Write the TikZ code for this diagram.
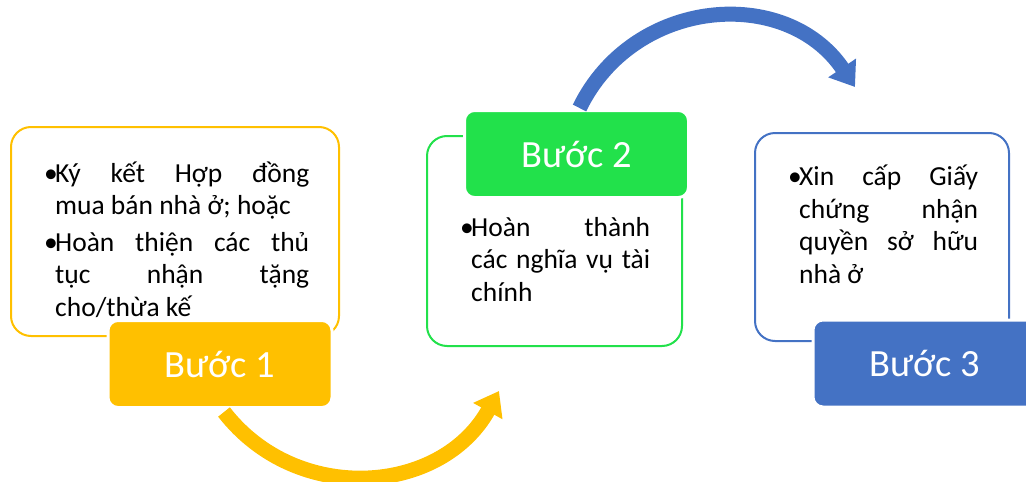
\documentclass[tikz,border=0pt]{standalone}
\usepackage{fontspec}
\setmainfont{Carlito}
\usetikzlibrary{arrows.meta}
\definecolor{yel}{HTML}{FFC000}
\definecolor{grn}{HTML}{22E14B}
\definecolor{blu}{HTML}{4472C4}
\newcommand\bul{\hangindent=11pt\hangafter=1\noindent\makebox[11pt][l]{•}}

\begin{document}
\begin{tikzpicture}[x=1pt,y=-1pt,
    card/.style={draw=#1,line width=2pt,rounded corners=20pt},
    stepbox/.style={fill=#1,draw=white,line width=3pt,rounded corners=10pt,
      minimum width=224pt,minimum height=87pt,text=white,font=\fontsize{38.5}{46}\selectfont},
    txt/.style={text width=#1,align=justify,inner sep=0pt,anchor=base west,
      font=\fontsize{27.5}{32.5}\selectfont},
    turnarrow/.style={draw=#1,line width=15pt,-{Triangle[length=23pt,width=32pt]}}]
    \useasboundingbox (0,0) rectangle (1026,482);
    % the three cards
    \foreach \n/\x/\y/\w/\h/\c in {1/175/231.5/328/209/yel,2/554.5/241/255/210/grn,3/882/237/254/208/blu} {
      \node[card=\c,minimum width=\w,minimum height=\h] (card\n) at (\x,\y) {};
    }
    \node[txt=265pt] (txt1) at (44,182) {\tolerance=10000\parskip=4pt
      \bul Ký kết Hợp đồng\linebreak mua bán nhà ở; hoặc\par
      \bul Hoàn thiện các thủ\linebreak tục nhận tặng\linebreak cho/thừa kế\par};
    \node[txt=190pt] (txt2) at (460,236) {\tolerance=10000
      \bul Hoàn thành\linebreak các nghĩa vụ tài\linebreak chính\par};
    \node[txt=190pt] (txt3) at (788,185.5) {\tolerance=10000
      \bul Xin cấp Giấy\linebreak chứng nhận\linebreak quyền sở hữu\linebreak nhà ở\par};
    % step labels
    \foreach \n/\x/\y/\c in {1/220/364/yel,2/576.5/154/grn,3/925/363.5/blu} {
      \node[stepbox=\c] (step\n) at (\x,\y) {Bước \n};
    }
    % curved arrows
    \coordinate (tip1) at (499,391);
    \coordinate (tip2) at (855,87);
    \draw[turnarrow=yel] ([xshift=4pt,yshift=-3pt]step1.south) .. controls +(73,94) and +(-58,104) .. (tip1);
    \draw[turnarrow=blu] ([xshift=3pt,yshift=1pt]step2.north) .. controls +(54,-111) and +(-69,-102) .. (tip2);
  \end{tikzpicture}
\end{document}
